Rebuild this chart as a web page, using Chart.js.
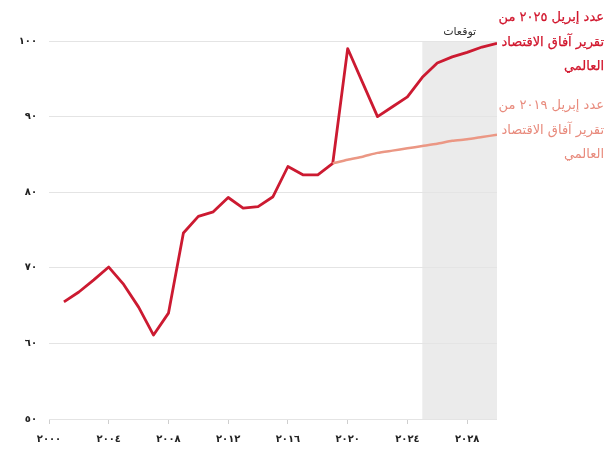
<!DOCTYPE html>
<html lang="ar">
<head>
<meta charset="utf-8">
<script src="https://cdn.jsdelivr.net/npm/chart.js@4.4.1/dist/chart.umd.min.js"></script>
<style>
    html, body { margin: 0; padding: 0; background: #fff; }
    #wrap { position: relative; width: 610px; height: 452px; }
    .legend-item {
        position: absolute;
        right: 6px;
        direction: rtl;
        text-align: right;
        font-family: "DejaVu Sans", sans-serif;
        font-size: 13px;
        line-height: 24.5px;
        white-space: nowrap;
    }
    .l2025 { top: 5px; color: #d1152c; -webkit-text-stroke: 0.25px #d1152c; }
    .l2019 { top: 93px; color: #e88a7c; }
</style>
</head>
<body>
<div id="wrap">
    <canvas id="myChart" width="610" height="452"></canvas>
    <div class="legend-item l2025">عدد إبريل ٢٠٢٥ من<br>تقرير آفاق الاقتصاد<br>العالمي</div>
    <div class="legend-item l2019">عدد إبريل ٢٠١٩ من<br>تقرير آفاق الاقتصاد<br>العالمي</div>
</div>
<script>
// data
const years2025 = [2001, 2002, 2003, 2004, 2005, 2006, 2007, 2008, 2009, 2010,
    2011, 2012, 2013, 2014, 2015, 2016, 2017, 2018, 2019, 2020,
    2021, 2022, 2023, 2024, 2025, 2026, 2027, 2028, 2029, 2030];
const weo2025 = [65.5, 66.8, 68.4, 70.1, 67.8, 64.8, 61.1, 64.0, 74.6, 76.8,
    77.4, 79.3, 77.9, 78.1, 79.4, 83.4, 82.3, 82.3, 83.8, 99.0,
    94.5, 90.0, 91.3, 92.6, 95.2, 97.1, 97.9, 98.5, 99.2, 99.7];
const years2019 = [2019, 2020, 2021, 2022, 2023, 2024, 2025, 2026, 2027, 2028, 2029, 2030];
const weo2019 = [83.8, 84.3, 84.7, 85.2, 85.5, 85.8, 86.1, 86.4, 86.8, 87.0, 87.3, 87.6];
const yTicks = [50, 60, 70, 80, 90, 100];
const xTicks = [2000, 2004, 2008, 2012, 2016, 2020, 2024, 2028];
const forecastStart = 2025;
const forecastLabel = 'توقعات';

const arDigits = (n) => String(n).replace(/[0-9]/g, d => '٠١٢٣٤٥٦٧٨٩'[d]);

const forecastShade = {
    id: 'forecastShade',
    beforeDraw(chart) {
        var ctx = chart.ctx;
        var area = chart.chartArea;
        var x0 = chart.scales.x.getPixelForValue(forecastStart);
        ctx.save();
        ctx.fillStyle = '#ebebeb';
        ctx.fillRect(x0, area.top, area.right - x0, area.bottom - area.top + 1);
        ctx.fillStyle = '#333';
        ctx.font = '11px "DejaVu Sans", sans-serif';
        ctx.textAlign = 'center';
        ctx.textBaseline = 'bottom';
        ctx.fillText(forecastLabel, (x0 + area.right) / 2, area.top - 3);
        ctx.restore();
    }
};

const chartJs = () => {
    new Chart('myChart', {
        type: 'line',
        data: {
            datasets: [{
                data: years2019.map((y, i) => ({ x: y, y: weo2019[i] })),
                borderColor: '#eb9784',
                borderWidth: 2.5,
                pointRadius: 0,
                tension: 0.2
            }, {
                data: years2025.map((y, i) => ({ x: y, y: weo2025[i] })),
                borderColor: '#cc1a31',
                borderWidth: 2.8,
                pointRadius: 0,
                tension: 0,
                borderJoinStyle: 'round'
            }]
        },
        options: {
            responsive: false,
            animation: false,
            layout: { padding: { top: 41, right: 113, left: 0, bottom: 0 } },
            plugins: { legend: { display: false }, tooltip: { enabled: false } },
            scales: {
                x: {
                    type: 'linear',
                    min: 2000,
                    max: 2030,
                    afterFit: (s) => { s.height = 33; },
                    afterBuildTicks: (s) => { s.ticks = xTicks.map(v => ({ value: v })); },
                    border: { display: false },
                    grid: { drawOnChartArea: false, drawTicks: true, tickLength: 5, color: '#cfcfcf' },
                    ticks: {
                        padding: 9,
                        maxRotation: 0,
                        autoSkip: false,
                        color: '#222',
                        font: { family: 'DejaVu Sans', size: 10, weight: 'bold' },
                        callback: (v) => arDigits(v)
                    }
                },
                y: {
                    min: 50,
                    max: 100,
                    afterFit: (s) => { s.width = 49; },
                    afterBuildTicks: (s) => { s.ticks = yTicks.map(v => ({ value: v })); },
                    border: { display: false },
                    grid: { drawTicks: false, color: '#e4e4e4' },
                    ticks: {
                        padding: 12,
                        color: '#222',
                        font: { family: 'DejaVu Sans', size: 10, weight: 'bold' },
                        callback: (v) => arDigits(v)
                    }
                }
            }
        },
        plugins: [forecastShade]
    });
}

chartJs();
</script>
</body>
</html>
